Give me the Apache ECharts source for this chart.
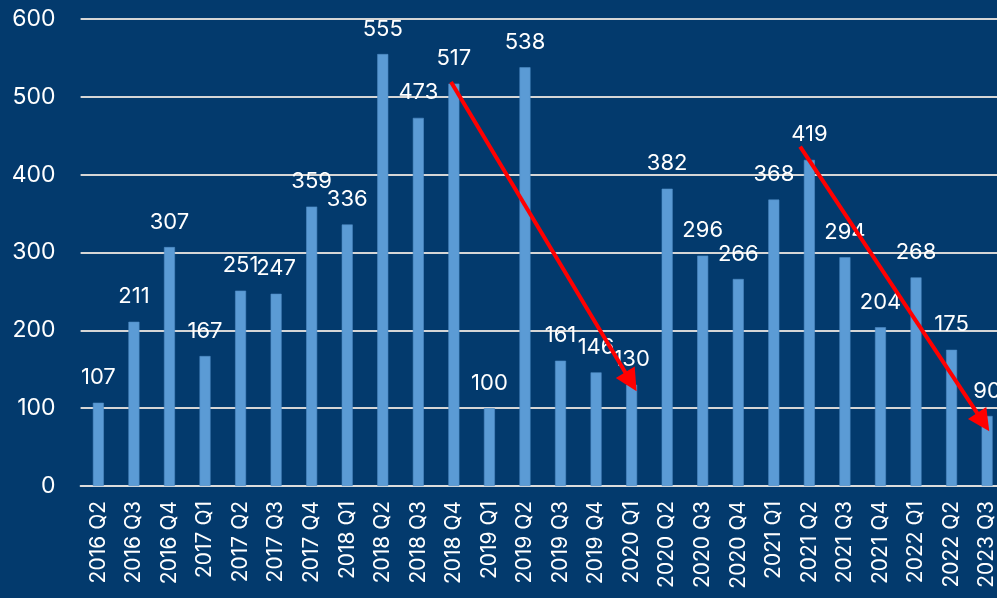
<!DOCTYPE html>
<html>
<head>
<meta charset="utf-8">
<script src="https://cdn.jsdelivr.net/npm/echarts@6/dist/echarts.min.js"></script>
<style>
html,body{margin:0;padding:0;background:#033a6d;}
#c{width:997px;height:598px;}
</style>
</head>
<body>
<div id="c"></div>
<script>
const categories = ['2016 Q2','2016 Q3','2016 Q4','2017 Q1','2017 Q2','2017 Q3','2017 Q4','2018 Q1','2018 Q2','2018 Q3','2018 Q4','2019 Q1','2019 Q2','2019 Q3','2019 Q4','2020 Q1','2020 Q2','2020 Q3','2020 Q4','2021 Q1','2021 Q2','2021 Q3','2021 Q4','2022 Q1','2022 Q2','2023 Q3'];
const values = [107,211,307,167,251,247,359,336,555,473,517,100,538,161,146,130,382,296,266,368,419,294,204,268,175,90];
const yTicks = {min: 0, max: 600, interval: 100};
// Trend arrows (annotation): [category position, value] start and end
const arrow1 = [[10.42, 519], [15.48, 134]];
const arrow2 = [[20.24, 436], [25.39, 82]];

const FONT = 'Inter';
const chart = echarts.init(document.getElementById('c'), null, {renderer: 'canvas'});
chart.setOption({
  backgroundColor: '#033a6d',
  animation: false,
  grid: {left: 80.6, width: 924.3, top: 19, height: 467, containLabel: false, outerBoundsMode: 'none'},
  xAxis: [{
    type: 'category',
    data: categories,
    axisLine: {show: true, lineStyle: {color: '#dcdcdc', width: 2}},
    axisTick: {show: false},
    axisLabel: {color: '#ffffff', rotate: 90, fontSize: 21, fontFamily: FONT, margin: 15, interval: 0}
  }, {
    type: 'value', min: 0, max: categories.length, show: false
  }],
  yAxis: {
    type: 'value',
    min: yTicks.min, max: yTicks.max, interval: yTicks.interval,
    axisLine: {show: false},
    axisTick: {show: false},
    axisLabel: {color: '#ffffff', fontSize: 23, fontFamily: FONT, margin: 25},
    splitLine: {lineStyle: {color: '#d6d6d6', width: 2}}
  },
  series: [{
    type: 'bar',
    data: values,
    barWidth: 11,
    itemStyle: {color: '#5b9bd5', borderColor: '#4f8bc4', borderWidth: 0.6},
    label: {show: true, position: 'top', distance: 14, color: '#ffffff', fontSize: 22, fontFamily: FONT},
    z: 2
  }, {
    type: 'lines',
    coordinateSystem: 'cartesian2d',
    xAxisIndex: 1,
    yAxisIndex: 0,
    symbol: ['none', 'triangle'],
    symbolSize: [17, 22],
    lineStyle: {color: '#ff0000', width: 4, opacity: 1},
    data: [{coords: arrow1}, {coords: arrow2}],
    z: 5
  }]
});
</script>
</body>
</html>
